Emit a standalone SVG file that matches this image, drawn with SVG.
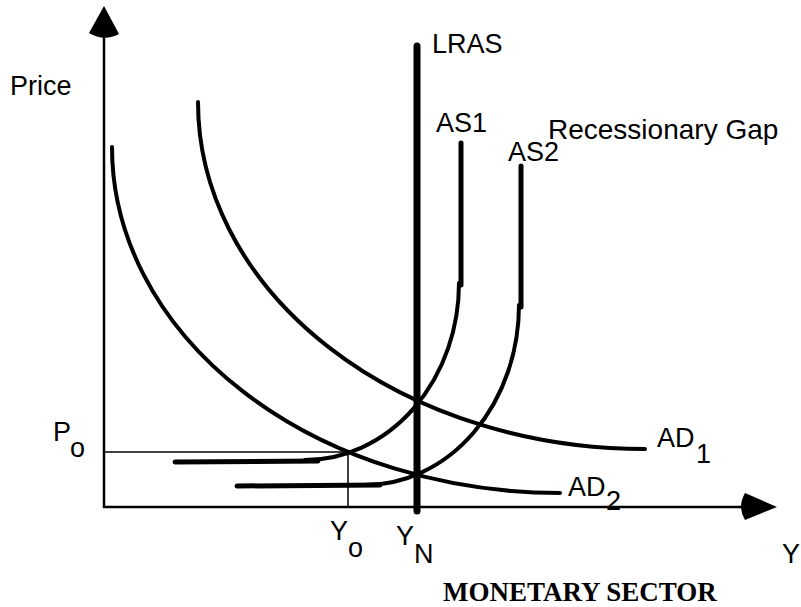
<svg xmlns="http://www.w3.org/2000/svg" width="801" height="607" viewBox="0 0 801 607">
<style>
.t{font-family:"Liberation Sans",Arial,sans-serif;font-size:27px;fill:#000}
.b{font-family:"Liberation Serif","Times New Roman",serif;font-size:27px;font-weight:bold;fill:#000}
.ax{stroke:#000;stroke-width:2.5;fill:none}
.thin{stroke:#000;stroke-width:1.5;fill:none}
.crv{stroke:#000;stroke-width:4;fill:none;stroke-linecap:round}
.as{stroke:#000;stroke-width:5;fill:none;stroke-linecap:round}
</style>
<rect width="801" height="607" fill="#fff"/>
<g id="axes">
<line class="ax" x1="104" y1="30" x2="104" y2="508"/>
<line class="ax" x1="103" y1="507" x2="750" y2="507"/>
<path d="M104,6 L119,34 Q104,42 89,33 Z" fill="#000"/>
<path d="M777,507 L745,493 Q737,507 745,520 Z" fill="#000"/>
</g>
<g id="connectors">
<line class="thin" x1="104" y1="452" x2="348" y2="452"/>
<line class="thin" x1="348" y1="452" x2="348" y2="507"/>
</g>
<g id="AD1"><path class="crv" d="M198,102 A447,347 0 0 0 645,449"/></g>
<g id="AD2"><path class="crv" d="M112,147 A448,346 0 0 0 560,493"/></g>
<g id="AS1">
<line class="as" x1="175" y1="462" x2="318" y2="461"/>
<path class="crv" d="M305,460 A154,177 0 0 0 459,283"/>
<line class="as" x1="461" y1="143" x2="461" y2="285"/>
</g>
<g id="AS2">
<line class="as" x1="237" y1="486" x2="380" y2="485"/>
<path class="crv" d="M365,485 A154,180 0 0 0 519,305"/>
<line class="as" x1="521" y1="166" x2="521" y2="307"/>
</g>
<g id="LRAS"><line stroke="#000" stroke-width="7" stroke-linecap="round" x1="417" y1="46" x2="417" y2="511"/></g>
<g id="labels">
<text class="t" x="10" y="95">Price</text>
<text class="t" x="432" y="53">LRAS</text>
<text class="t" x="436" y="132">AS1</text>
<text class="t" x="508" y="161">AS2</text>
<text class="t" x="548" y="139" style="font-size:28px">Recessionary Gap</text>
<text class="t" x="657" y="447">AD</text><text class="t" x="696" y="463">1</text>
<text class="t" x="568" y="496">AD</text><text class="t" x="606" y="510">2</text>
<text class="t" x="782" y="563">Y</text>
<text class="t" x="53" y="441">P</text><text class="t" x="70" y="457">o</text>
<text class="t" x="330" y="540">Y</text><text class="t" x="348" y="557">o</text>
<text class="t" x="396" y="545">Y</text><text class="t" x="414" y="563">N</text>
<text class="b" x="443" y="601">MONETARY SECTOR</text>
</g>
</svg>
